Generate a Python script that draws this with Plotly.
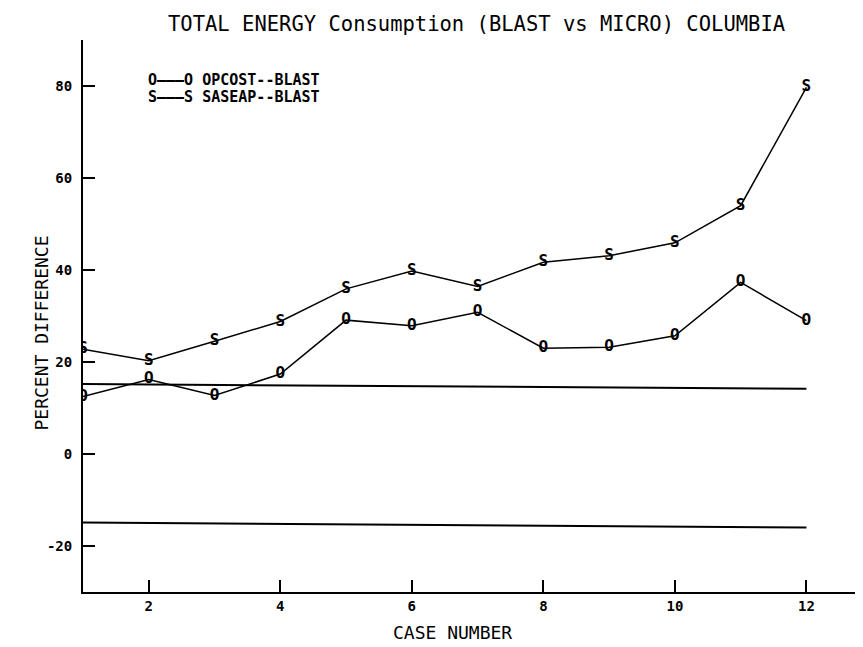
import plotly.graph_objects as go

# ---- data ----
case_number = [1, 2, 3, 4, 5, 6, 7, 8, 9, 10, 11, 12]
opcost_blast = [12.5, 16.2, 12.7, 17.4, 29.1, 27.9, 30.8, 23.0, 23.2, 25.7, 37.3, 29.0]
saseap_blast = [22.8, 20.3, 24.5, 28.8, 35.9, 39.8, 36.4, 41.7, 43.1, 45.9, 54.0, 79.7]
band_x = [1, 12]
band_upper = [15.2, 14.2]
band_lower = [-14.9, -16.0]
x_ticks = [2, 4, 6, 8, 10, 12]
y_ticks = [-20, 0, 20, 40, 60, 80]

title_text = "TOTAL ENERGY Consumption (BLAST vs MICRO) COLUMBIA"
legend_lines = ["O———O OPCOST--BLAST", "S———S SASEAP--BLAST"]

MONO = "DejaVu Sans Mono"

# plot area in screen pixels (page body adds an 8px offset)
OFF = 8
PL, PR, PT, PB = 82.5, 863.0, 40.0, 592.0
PW, PH = PR - PL, PB - PT


def px(xp):
    return (xp - PL) / PW


def py(yp):
    return (PB - yp) / PH


fig = go.Figure()

for yb in (band_upper, band_lower):
    fig.add_trace(go.Scatter(x=band_x, y=yb, mode="lines",
                             line=dict(color="black", width=2), showlegend=False,
                             hoverinfo="skip"))

fig.add_trace(go.Scatter(x=case_number, y=saseap_blast, mode="lines+text",
                         text=["S"] * len(case_number), textposition="middle center",
                         textfont=dict(family=MONO, size=16, color="black", weight="bold"),
                         line=dict(color="black", width=1.5), name="SASEAP--BLAST",
                         showlegend=False))
fig.add_trace(go.Scatter(x=case_number, y=opcost_blast, mode="lines+text",
                         text=["O"] * len(case_number), textposition="middle center",
                         textfont=dict(family=MONO, size=16, color="black", weight="bold"),
                         line=dict(color="black", width=1.5), name="OPCOST--BLAST",
                         showlegend=False))

annotations = [
    dict(text=title_text, xref="paper", yref="paper", x=px(476.5), y=py(24),
         xanchor="center", yanchor="middle", showarrow=False,
         font=dict(family=MONO, size=20.5, color="black")),
    dict(text="PERCENT DIFFERENCE", xref="paper", yref="paper",
         x=px(40), y=py(333), textangle=-90,
         xanchor="center", yanchor="middle", showarrow=False,
         font=dict(family=MONO, size=18, color="black")),
    dict(text="CASE NUMBER", xref="paper", yref="paper",
         x=px(452), y=py(632),
         xanchor="center", yanchor="middle", showarrow=False,
         font=dict(family=MONO, size=18, color="black")),
]
for i, t in enumerate(legend_lines):
    annotations.append(dict(text="<b>" + t + "</b>", xref="paper", yref="paper",
                            x=px(146), y=py(80 + 17 * i),
                            xanchor="left", yanchor="middle", showarrow=False,
                            font=dict(family=MONO, size=15, color="black")))

W, H = 863 - OFF, 647 - OFF
fig.update_layout(
    width=W, height=H,
    margin=dict(l=PL - OFF, r=(863 - PR), t=PT - OFF, b=647 - PB, autoexpand=False),
    paper_bgcolor="white", plot_bgcolor="white",
    showlegend=False,
    annotations=annotations,
    xaxis=dict(range=[1, 12.86], tickvals=x_ticks, ticktext=[str(v) for v in x_ticks],
               ticks="inside", ticklen=12, tickwidth=2, tickcolor="black",
               showline=True, linecolor="black", linewidth=2, showgrid=False,
               zeroline=False,
               tickfont=dict(family=MONO, size=14, color="black", weight="bold")),
    yaxis=dict(range=[-30, 90], tickvals=y_ticks, ticktext=[str(v) for v in y_ticks],
               ticks="inside", ticklen=12, tickwidth=2, tickcolor="black",
               showline=True, linecolor="black", linewidth=2, showgrid=False,
               zeroline=False, ticklabelstandoff=6,
               tickfont=dict(family=MONO, size=14, color="black", weight="bold")),
)

fig.write_html("out.html")
